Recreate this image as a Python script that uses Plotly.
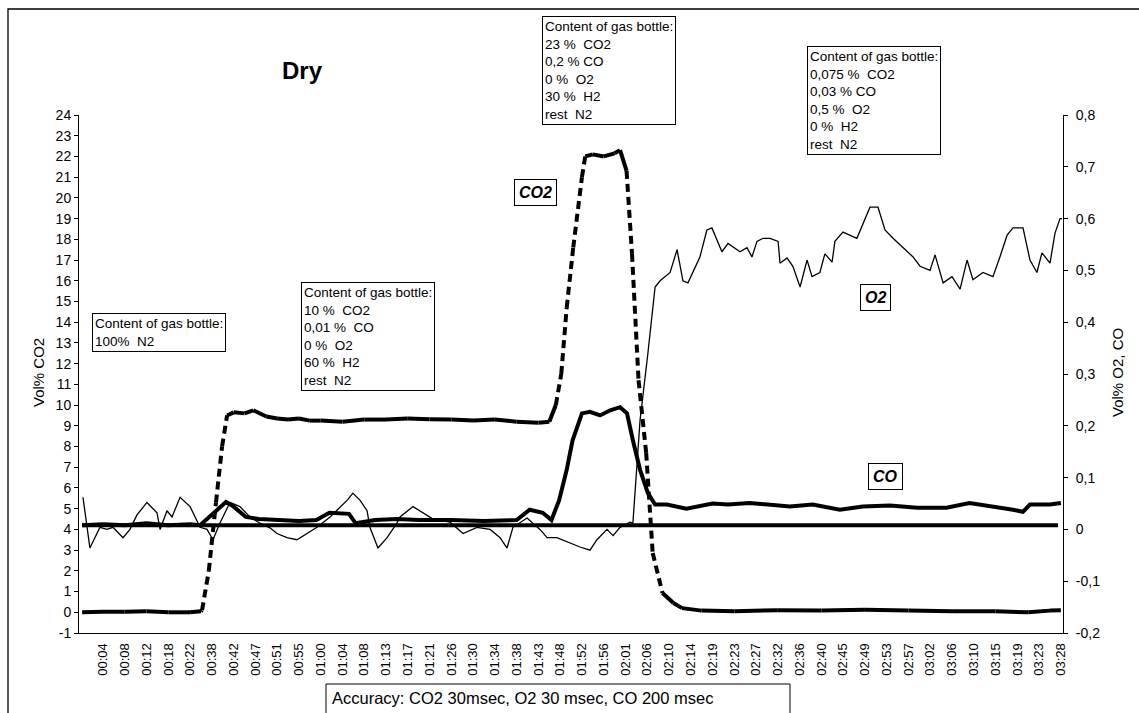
import plotly.graph_objects as go

# ---------------- data ----------------
x_labels = ["00:04", "00:08", "00:12", "00:18", "00:22", "00:38", "00:42", "00:47", "00:51", "00:55",
            "01:00", "01:04", "01:08", "01:13", "01:17", "01:21", "01:26", "01:30", "01:34", "01:38",
            "01:43", "01:48", "01:52", "01:56", "02:01", "02:06", "02:10", "02:14", "02:19", "02:23",
            "02:27", "02:32", "02:36", "02:40", "02:45", "02:49", "02:53", "02:57", "03:02", "03:06",
            "03:10", "03:15", "03:19", "03:23", "03:28"]
x_pos = list(range(len(x_labels)))

left_ticks = list(range(-1, 25))
left_ticktext = [str(v) for v in left_ticks]
right_ticks = [-0.2, -0.1, 0.0, 0.1, 0.2, 0.3, 0.4, 0.5, 0.6, 0.7, 0.8]
right_ticktext = ["-0,2", "-0,1", "0", "0,1", "0,2", "0,3", "0,4", "0,5", "0,6", "0,7", "0,8"]

# CO2 (Vol%, left axis); x = position on the time axis in label steps
co2_x = [-0.96, 0.0, 1.0, 2.0, 3.0, 4.0, 4.5, 4.55, 4.86, 5.19, 5.47, 5.7, 6.0, 6.5, 6.9, 7.5,
         8.0, 8.5, 9.0, 9.5, 10.0, 11.0, 12.0, 13.0, 14.0, 15.0, 16.0, 17.0, 18.0, 19.0, 20.0,
         20.5, 20.8, 21.05, 21.3, 21.6, 22.0, 22.15, 22.5, 23.0, 23.5, 23.75, 24.05, 24.3, 24.6,
         24.95, 25.25, 25.7, 26.2, 26.6, 27.5, 29.0, 31.0, 33.0, 35.0, 37.0, 39.0, 41.0, 42.5,
         43.5, 44.0]
co2_y = [0.0, 0.02, 0.03, 0.05, 0.0, 0.0, 0.05, 0.1, 2.0, 5.3, 8.0, 9.5, 9.65, 9.6, 9.75, 9.45,
         9.35, 9.3, 9.35, 9.25, 9.25, 9.2, 9.3, 9.3, 9.35, 9.32, 9.3, 9.25, 9.3, 9.2, 9.15,
         9.2, 10.0, 11.5, 14.7, 17.6, 21.0, 22.0, 22.1, 22.0, 22.15, 22.3, 21.3, 17.3, 11.2,
         7.7, 2.86, 0.93, 0.45, 0.2, 0.08, 0.05, 0.1, 0.08, 0.12, 0.08, 0.05, 0.05, 0.0,
         0.08, 0.1]

# O2 (Vol%, right axis)
o2_x = [-0.92, -0.6, -0.14, 0.18, 0.46, 0.92, 1.24, 1.56, 2.02, 2.48, 2.62, 2.94, 3.17, 3.54,
        4.0, 4.46, 4.78, 5.05, 5.37, 5.83, 6.29, 6.75, 7.21, 7.67, 7.99, 8.45, 8.91, 9.37, 9.83,
        10.43, 10.89, 11.21, 11.48, 11.81, 12.13, 12.26, 12.63, 13.05, 13.5, 13.64, 14.24, 14.7,
        15.16, 15.94, 16.54, 17.18, 17.78, 18.24, 18.56, 18.83, 19.48, 20.07, 20.4, 20.85, 21.45,
        21.91, 22.37, 22.69, 23.15, 23.43, 23.75, 24.21, 24.34, 24.67, 25.03, 25.36, 25.59, 26.05,
        26.37, 26.64, 26.87, 27.42, 27.74, 27.97, 28.43, 28.71, 29.26, 29.58, 29.81, 30.04, 30.32,
        30.64, 31.01, 31.1, 31.42, 31.69, 32.02, 32.34, 32.57, 32.93, 33.16, 33.49, 33.62, 33.99,
        34.63, 34.86, 35.23, 35.6, 35.92, 36.29, 36.75, 37.21, 37.53, 37.99, 38.22, 38.59, 39.0,
        39.37, 39.69, 39.96, 40.42, 40.88, 41.2, 41.53, 41.8, 42.26, 42.58, 42.9, 43.13, 43.5,
        43.73, 43.96, 44.05]
o2_y = [0.062, -0.036, 0.004, 0.0, 0.004, -0.016, 0.0, 0.028, 0.052, 0.032, 0.0, 0.036, 0.024, 0.062,
        0.044, 0.004, 0.0, -0.02, 0.012, 0.052, 0.044, 0.024, 0.012, 0.003, -0.008, -0.016, -0.02, -0.008, 0.004,
        0.024, 0.044, 0.056, 0.07, 0.056, 0.036, 0.004, -0.036, -0.016, 0.012, 0.024, 0.044, 0.032,
        0.02, 0.014, -0.008, 0.004, 0.0, -0.016, -0.036, 0.004, 0.022, 0.0, -0.016, -0.016, -0.026,
        -0.034, -0.04, -0.02, 0.0, -0.012, 0.004, 0.014, 0.012, 0.211, 0.34, 0.468, 0.48, 0.496,
        0.54, 0.48, 0.476, 0.526, 0.578, 0.582, 0.536, 0.552, 0.536, 0.544, 0.526, 0.556, 0.562,
        0.562, 0.556, 0.514, 0.524, 0.508, 0.468, 0.52, 0.488, 0.496, 0.532, 0.516, 0.556, 0.574,
        0.562, 0.584, 0.622, 0.622, 0.578, 0.562, 0.544, 0.526, 0.508, 0.5, 0.53, 0.476, 0.488,
        0.464, 0.52, 0.482, 0.496, 0.488, 0.526, 0.568, 0.582, 0.582, 0.52, 0.496, 0.534, 0.514,
        0.572, 0.6, 0.6]

# CO (Vol%, right axis)
co_x = [-0.96, 0.0, 1.0, 2.0, 3.0, 4.0, 4.46, 5.0, 5.65, 6.0, 6.56, 7.16, 8.0, 9.0, 9.8, 10.4,
        11.3, 11.6, 12.5, 13.5, 14.5, 16.0, 17.5, 19.0, 19.6, 20.2, 20.6, 20.95, 21.3, 21.57, 22.0,
        22.37, 22.83, 23.3, 23.75, 24.07, 24.34, 24.67, 25.03, 25.36, 25.9, 26.8, 28.0, 28.71,
        29.7, 30.6, 31.55, 32.6, 33.85, 34.9, 36.15, 37.4, 38.75, 39.8, 41.05, 41.8, 42.26, 42.58,
        43.5, 44.0]
co_y = [0.008, 0.01, 0.008, 0.012, 0.008, 0.01, 0.008, 0.028, 0.053, 0.044, 0.024, 0.02, 0.018, 0.016,
        0.018, 0.032, 0.03, 0.012, 0.018, 0.02, 0.018, 0.018, 0.016, 0.018, 0.038, 0.032, 0.018,
        0.056, 0.115, 0.172, 0.224, 0.227, 0.22, 0.23, 0.236, 0.224, 0.172, 0.115, 0.07, 0.048,
        0.048, 0.04, 0.05, 0.048, 0.051, 0.048, 0.044, 0.048, 0.038, 0.044, 0.046, 0.042, 0.042,
        0.051, 0.044, 0.038, 0.034, 0.048, 0.048, 0.051]

# constant reference line (right axis)
ref_x = [-0.96, 43.87]
ref_y = [0.008, 0.008]

# ---------------- helpers ----------------
PL, PR, PT, PB = 79, 76, 115, 80
W, H = 1139, 713
PW, PH = W - PL - PR, H - PT - PB


def px(x):
    return (x - PL) / PW


def py(y):
    return (H - PB - y) / PH


FONT = "Liberation Sans, Arial, Helvetica, sans-serif"

# split the CO2 curve: steep parts dashed, flat parts solid
sx, sy, dx, dy = [], [], [], []
for k in range(len(co2_x) - 1):
    slope = abs((co2_y[k + 1] - co2_y[k]) / (co2_x[k + 1] - co2_x[k]))
    if slope > 4:
        dx += [co2_x[k], co2_x[k + 1], None]
        dy += [co2_y[k], co2_y[k + 1], None]
    else:
        sx += [co2_x[k], co2_x[k + 1], None]
        sy += [co2_y[k], co2_y[k + 1], None]

fig = go.Figure()
fig.add_trace(go.Scatter(x=sx, y=sy, mode="lines", line=dict(color="black", width=4),
                         name="CO2", showlegend=False, hoverinfo="skip"))
fig.add_trace(go.Scatter(x=dx, y=dy, mode="lines", line=dict(color="black", width=4, dash="8px,5px"),
                         name="CO2", showlegend=False, hoverinfo="skip"))
fig.add_trace(go.Scatter(x=o2_x, y=o2_y, mode="lines", yaxis="y2",
                         line=dict(color="black", width=1.3), name="O2", showlegend=False))
fig.add_trace(go.Scatter(x=co_x, y=co_y, mode="lines", yaxis="y2",
                         line=dict(color="black", width=4), name="CO", showlegend=False))
fig.add_trace(go.Scatter(x=ref_x, y=ref_y, mode="lines", yaxis="y2",
                         line=dict(color="black", width=4), name="ref", showlegend=False))

xr = [(PL - 103) / 21.77, (W - PR - 103) / 21.77]

fig.update_layout(
    width=W, height=H,
    margin=dict(l=PL, r=PR, t=PT, b=PB, pad=0, autoexpand=False),
    paper_bgcolor="white", plot_bgcolor="white",
    font=dict(family=FONT, color="black"),
    xaxis=dict(range=xr, tickmode="array", tickvals=x_pos, ticktext=x_labels, tickangle=-90,
               ticks="", showline=True, linecolor="black", linewidth=1, showgrid=False,
               zeroline=False, tickfont=dict(size=13, family=FONT), ticklabelstandoff=4,
               automargin=False),
    yaxis=dict(range=[-1, 24], tickmode="array", tickvals=left_ticks, ticktext=left_ticktext,
               ticks="outside", ticklen=4, tickwidth=1, tickcolor="black",
               showline=True, linecolor="black", linewidth=1, showgrid=False, zeroline=False,
               tickfont=dict(size=14, family=FONT), automargin=False),
    yaxis2=dict(range=[-0.2, 0.8], overlaying="y", side="right", anchor="x", tickmode="array",
                tickvals=right_ticks, ticktext=right_ticktext, ticks="outside", ticklen=4,
                tickwidth=1, tickcolor="black", showline=True, linecolor="black", linewidth=1,
                showgrid=False, zeroline=False, tickfont=dict(size=14, family=FONT),
                ticklabelstandoff=5, automargin=False),
    yaxis3=dict(range=[-1, 24], overlaying="y", side="left", anchor="x", tickmode="array",
                tickvals=left_ticks, ticks="inside", ticklen=4, tickwidth=1, tickcolor="black",
                showticklabels=False, showline=False, showgrid=False, zeroline=False,
                automargin=False),
    yaxis4=dict(range=[-0.2, 0.8], overlaying="y", side="right", anchor="x", tickmode="array",
                tickvals=right_ticks, ticks="inside", ticklen=4, tickwidth=1, tickcolor="black",
                showticklabels=False, showline=False, showgrid=False, zeroline=False,
                automargin=False),
)

ann = []
# titles
ann.append(dict(text="<b>Dry</b>", x=px(302), y=py(70), xanchor="center", yanchor="middle",
                font=dict(size=24, family=FONT)))
ann.append(dict(text="Vol% CO2", x=px(38), y=py(373), xanchor="center", yanchor="middle",
                textangle=-90, font=dict(size=15, family=FONT)))
ann.append(dict(text="Vol% O2, CO", x=px(1117), y=py(373), xanchor="center", yanchor="middle",
                textangle=-90, font=dict(size=15, family=FONT)))

NB = "\u00a0"
boxes = [
    (92, 313, ["Content of gas bottle:", "100%" + NB + " N2"]),
    (301, 282, ["Content of gas bottle:", "10 %" + NB + " CO2", "0,01 %" + NB + " CO", "0 %" + NB + " O2",
                "60 %" + NB + " H2", "rest" + NB + " N2"]),
    (542, 16, ["Content of gas bottle:", "23 %" + NB + " CO2", "0,2 % CO", "0 %" + NB + " O2",
               "30 %" + NB + " H2", "rest" + NB + " N2"]),
    (807, 46, ["Content of gas bottle:", "0,075 %" + NB + " CO2", "0,03 % CO", "0,5 %" + NB + " O2",
               "0 %" + NB + " H2", "rest" + NB + " N2"]),
]
for bx, by, lines in boxes:
    ann.append(dict(text="<br>".join(lines), x=px(bx), y=py(by), xanchor="left", yanchor="top",
                    align="left", font=dict(size=13.5, family=FONT), bordercolor="black",
                    borderwidth=1, borderpad=2, bgcolor="white"))

for label, cx, cy in [("CO2", 535, 192.5), ("O2", 875.5, 297), ("CO", 885.5, 476.5)]:
    ann.append(dict(text="<b><i>" + label + "</i></b>", x=px(cx), y=py(cy), xanchor="center",
                    yanchor="middle", font=dict(size=16, family=FONT), bordercolor="black",
                    borderwidth=1, borderpad=4, bgcolor="white"))

ann.append(dict(text="Accuracy: CO2 30msec, O2 30 msec, CO 200 msec", x=px(330), y=py(698),
                xanchor="left", yanchor="middle", font=dict(size=16.5, family=FONT)))

for a in ann:
    a.setdefault("xref", "paper")
    a.setdefault("yref", "paper")
    a.setdefault("showarrow", False)
fig.update_layout(annotations=ann)

fig.update_layout(shapes=[
    dict(type="rect", xref="paper", yref="paper", x0=px(8), x1=px(1160), y0=py(740), y1=py(9),
         line=dict(color="black", width=1.3), fillcolor="rgba(0,0,0,0)", layer="below"),
    dict(type="rect", xref="paper", yref="paper", x0=px(326), x1=px(790), y0=py(740), y1=py(684),
         line=dict(color="black", width=1), fillcolor="rgba(0,0,0,0)"),
])

fig.write_html("out.html", config={"displayModeBar": False},
               post_script="document.body.style.margin='0px';document.body.style.overflow='hidden';")
